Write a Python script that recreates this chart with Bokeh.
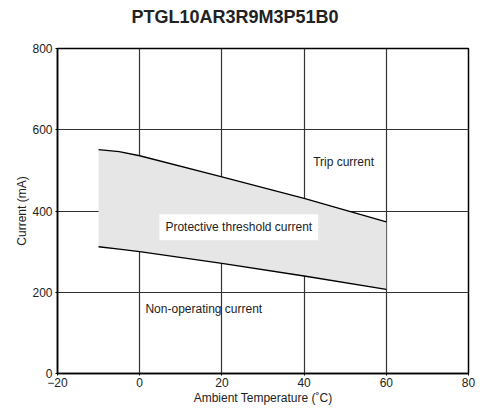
from bokeh.plotting import figure
from bokeh.models import Label, Range1d, FixedTicker, Title
from bokeh.embed import file_html
from bokeh.resources import INLINE

temps = [-10, -5, 0, 20, 40, 60]
trip_current = [551, 546, 536, 484, 431, 373]
nonop_current = [312, 306, 300, 271, 240, 207]
x_ticks = [-20, 0, 20, 40, 60, 80]
y_ticks = [0, 200, 400, 600, 800]

FONT = "Liberation Sans"

p = figure(width=470, height=395, output_backend="svg", toolbar_location=None,
           x_range=Range1d(-20, 80), y_range=Range1d(0, 800),
           min_border_left=57, min_border_right=8, min_border_top=48, min_border_bottom=30)
p.frame_width = 411
p.frame_height = 325

spacer = Title(text=" ", text_font_size="1px", standoff=19)
p.add_layout(spacer, "above")
t = Title(text="PTGL10AR3R9M3P51B0", align="left", offset=74, standoff=0,
          text_font=FONT, text_font_size="18px", text_font_style="bold", text_color="#222222")
p.add_layout(t, "above")

p.varea(x=temps, y1=nonop_current, y2=trip_current, fill_color="#e6e6e6")
p.line(temps, trip_current, line_color="black", line_width=1.3)
p.line(temps, nonop_current, line_color="black", line_width=1.3)

p.outline_line_color = "black"
p.outline_line_width = 1.5

for ax in (p.xaxis[0], p.yaxis[0]):
    ax.major_label_text_font = FONT
    ax.major_label_text_font_size = "12px"
    ax.major_label_text_color = "#222222"
    ax.axis_label_text_font = FONT
    ax.axis_label_text_font_size = "12px"
    ax.axis_label_text_font_style = "normal"
    ax.axis_label_text_color = "#222222"
    ax.minor_tick_line_color = None
    ax.major_tick_in = 0
    ax.major_tick_out = 2
    ax.axis_line_color = "black"
    ax.axis_line_width = 1.5

p.xaxis.ticker = FixedTicker(ticks=x_ticks)
p.yaxis.ticker = FixedTicker(ticks=y_ticks)
p.xaxis.axis_label = "Ambient Temperature (˚C)"
p.yaxis.axis_label = "Current (mA)"
p.xaxis.major_label_standoff = 2
p.yaxis.major_label_standoff = 3
p.xaxis.axis_label_standoff = 1
p.yaxis.axis_label_standoff = 0

p.grid.grid_line_color = "#333333"
p.grid.grid_line_width = 1.2
p.grid.grid_line_alpha = 1.0

lbl_style = dict(text_font=FONT, text_font_size="12px", text_color="#222222",
                 text_baseline="middle")
p.add_layout(Label(x=42.2, y=520, text="Trip current", **lbl_style))
p.add_layout(Label(x=4.8, y=360, text="Protective threshold current",
                   background_fill_color="white", padding=6, **lbl_style))
p.add_layout(Label(x=1.4, y=158, text="Non-operating current", **lbl_style))

open("out.html", "w").write(file_html(p, INLINE))
